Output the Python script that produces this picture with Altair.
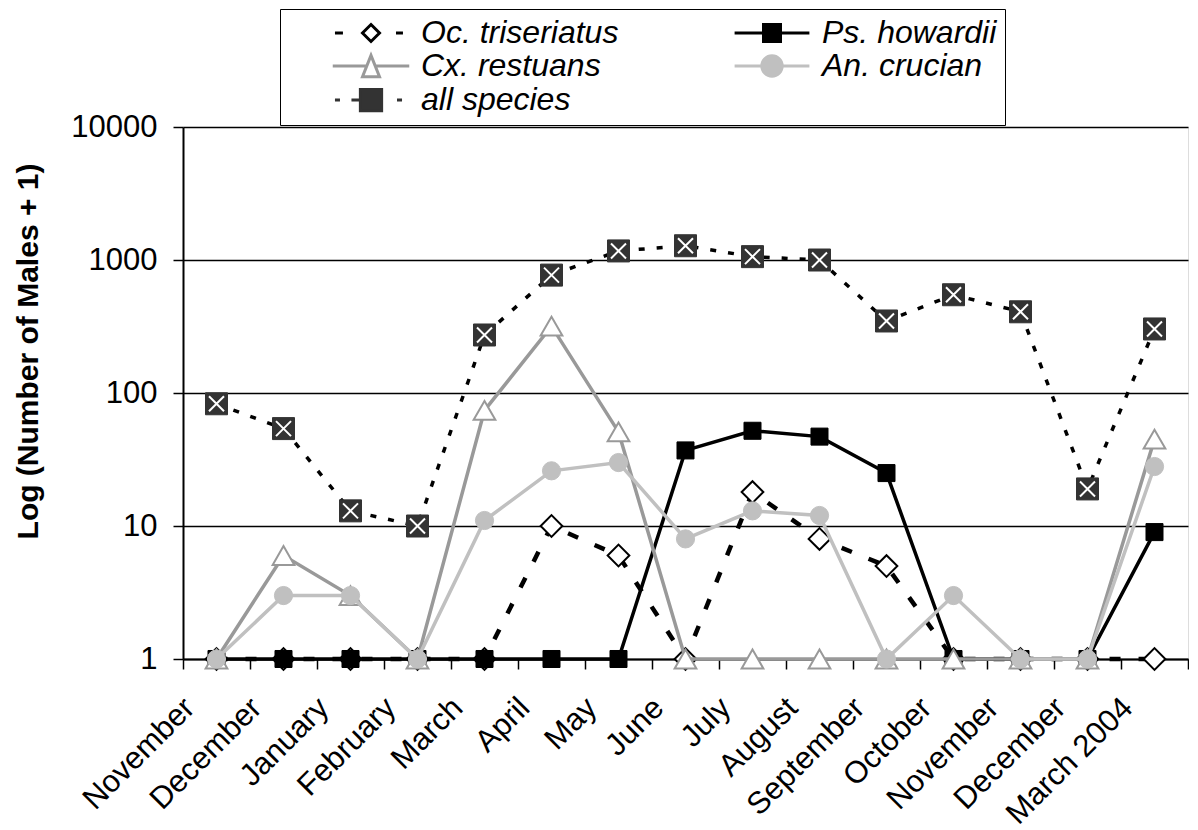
import json
import altair as alt
import pandas as pd

# ---------------- data ----------------
months = ["November", "December", "January", "February", "March", "April", "May",
          "June", "July", "August", "September", "October", "November", "December",
          "March 2004"]
oc_triseriatus = [1, 1, 1, 1, 1, 10, 6, 1, 18, 8, 5, 1, 1, 1, 1]
ps_howardii = [1, 1, 1, 1, 1, 1, 1, 37, 52, 47, 25, 1, 1, 1, 9]
cx_restuans = [1, 6, 3, 1, 74, 318, 51, 1, 1, 1, 1, 1, 1, 1, 45]
an_crucian = [1, 3, 3, 1, 11, 26, 30, 8, 13, 12, 1, 3, 1, 1, 28]
all_species = [83, 54, 13, 10, 273, 770, 1170, 1280, 1060, 1000, 348, 548, 408, 19, 303]

series_names = ["Oc. triseriatus", "Ps. howardii", "Cx. restuans", "An. crucian", "all species"]
series_values = [oc_triseriatus, ps_howardii, cx_restuans, an_crucian, all_species]
y_ticks = [1, 10, 100, 1000, 10000]

rows = []
for name, vals in zip(series_names, series_values):
    for i, v in enumerate(vals):
        rows.append({"idx": i, "month": months[i], "series": name, "value": v})
df = pd.DataFrame(rows)

FONT = "Liberation Sans"
label_expr = json.dumps(months) + "[datum.value]"

x_enc = alt.X(
    "idx:O",
    scale=alt.Scale(paddingInner=0, paddingOuter=0),
    axis=alt.Axis(
        title=None, labelExpr=label_expr, labelAngle=-45, labelAlign="right",
        labelBaseline="middle", labelFont=FONT, labelFontSize=31, labelColor="black",
        labelOffset=-27, labelPadding=34, labelOverlap=False, labelBound=False,
        tickBand="extent", tickSize=10, tickColor="black", tickWidth=1.5,
        domainColor="black", domainWidth=2, grid=False,
    ),
)
y_enc = alt.Y(
    "value:Q",
    scale=alt.Scale(type="log", domain=[1, 10000], nice=False),
    axis=alt.Axis(
        values=y_ticks, format="d", title="Log (Number of Males + 1)",
        titleFont=FONT, titleFontSize=30, titleFontWeight="bold", titleColor="black",
        titlePadding=27, titleY=224,
        labelFont=FONT, labelFontSize=31, labelColor="black", labelPadding=16,
        tickSize=10, tickColor="black", tickWidth=1.5,
        domainColor="black", domainWidth=2,
        grid=True, gridColor="black", gridWidth=1.5,
    ),
)

styles = {
    "Oc. triseriatus": dict(line="black", lw=4.5, dash=[11, 18], shape="diamond", size=470,
                            fill="white", stroke="black", sw=2),
    "Ps. howardii": dict(line="black", lw=3.5, dash=None, shape="square", size=290,
                         fill="black", stroke="black", sw=1),
    "Cx. restuans": dict(line="#999999", lw=3.5, dash=None, shape="triangle-up", size=470,
                         fill="white", stroke="#999999", sw=2),
    "An. crucian": dict(line="#c0c0c0", lw=3.5, dash=None, shape="circle", size=330,
                        fill="#c0c0c0", stroke="#c0c0c0", sw=1),
    "all species": dict(line="black", lw=3.5, dash=[6, 12], shape="square", size=484,
                        fill="#333333", stroke="#333333", sw=1),
}

layers = []
for name in series_names:
    st = styles[name]
    src = alt.Chart(df).transform_filter(alt.datum.series == name)
    lk = dict(color=st["line"], strokeWidth=st["lw"])
    if st["dash"]:
        lk["strokeDash"] = st["dash"]
    layers.append(src.mark_line(**lk).encode(x=x_enc, y=y_enc))
    layers.append(
        src.mark_point(shape=st["shape"], size=st["size"], filled=True, fill=st["fill"],
                       stroke=st["stroke"], strokeWidth=st["sw"], opacity=1)
        .encode(x=x_enc, y=y_enc)
    )
    if name == "all species":
        layers.append(
            src.mark_point(shape="M-1,-1L1,1M1,-1L-1,1", size=225, filled=False,
                           stroke="white", strokeWidth=2, opacity=1)
            .encode(x=x_enc, y=y_enc)
        )

# legend symbols: line segments with marker
legend_paths = [
    "M-4.24,0H-3.3M2.94,0H3.76M0,-1L1,0L0,1L-1,0Z",
    "M-4.4,0H-1M1,0H4.4M-1,-1H1V1H-1Z",
    "M-4.5,0H-0.5M0.5,0H4.5M0,-1.25L1,1.25L-1,1.25Z",
    "M-4.4,0H-1.2M1.2,0H4.4M1.2,0A1.2,1.2 0 1,1 -1.2,0A1.2,1.2 0 1,1 1.2,0Z",
    "M-4.24,0H-3.65M-2.3,0H-1.25M3.06,0H3.65M-1.25,-1.25H1.25V1.25H-1.25Z",
]
legend_fills = ["white", "black", "white", "#c0c0c0", "#333333"]
legend_strokes = ["black", "black", "#999999", "#c0c0c0", "#333333"]

leg = alt.Legend(
    title=" ", titleOrient="left", titleFontSize=10, titlePadding=67,
    orient="none", legendX=97, legendY=-118, columns=2, direction="horizontal",
    columnPadding=109, rowPadding=0, symbolSize=289, symbolStrokeWidth=3,
    labelFont=FONT, labelFontSize=32, labelFontStyle="italic", labelColor="black",
    labelOffset=34, labelLimit=400, strokeColor="black", padding=8, fillColor="white",
)

legend_layer = (
    alt.Chart(df)
    .transform_filter("false")
    .mark_point(filled=True, opacity=1)
    .encode(
        x=x_enc, y=y_enc,
        shape=alt.Shape("series:N", scale=alt.Scale(domain=series_names, range=legend_paths), legend=leg),
        fill=alt.Fill("series:N", scale=alt.Scale(domain=series_names, range=legend_fills), legend=leg),
        stroke=alt.Stroke("series:N", scale=alt.Scale(domain=series_names, range=legend_strokes), legend=leg),
    )
)

chart = (
    alt.layer(*layers, legend_layer)
    .properties(width=1005, height=532,
                padding={"left": 5, "top": 0, "right": 0, "bottom": 0})
    .configure_view(stroke=None)
    .configure(background="white")
)

chart.save("out.html", embed_options={"renderer": "svg", "actions": False})
